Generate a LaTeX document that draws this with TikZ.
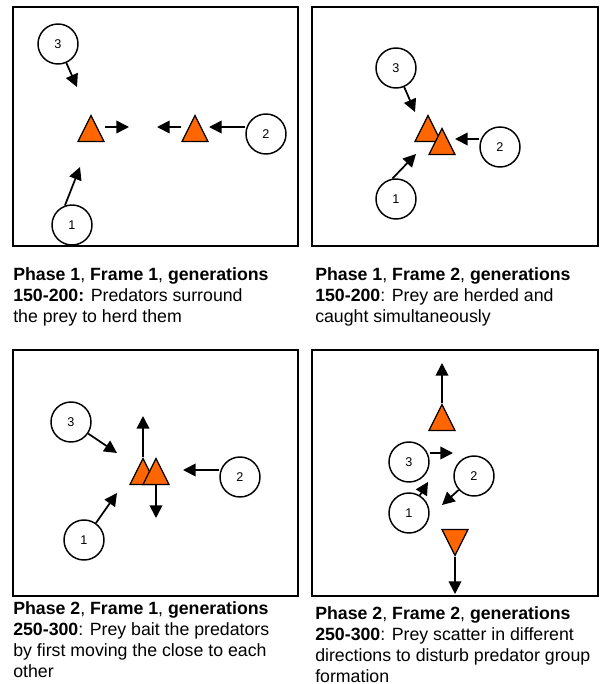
\documentclass[tikz,border=0pt]{standalone}
\usepackage{fontspec}
\setmainfont{Liberation Sans}
\usetikzlibrary{arrows.meta,shapes.geometric}
\definecolor{preyorange}{RGB}{255,102,0}

\begin{document}
\begin{tikzpicture}[x=0.75pt,y=-0.75pt,
    frame/.style={line width=1.5pt},
    pred/.style={circle,draw,line width=1.1pt,minimum size=30pt,inner sep=0pt,fill=white,font=\fontsize{9.5}{11}\selectfont},
    prey/.style={isosceles triangle,isosceles triangle stretches,shape border rotate=90,draw,line width=0.9pt,
      fill=preyorange,minimum width=19.5pt,minimum height=19.5pt,inner sep=0pt},
    preydown/.style={prey,shape border rotate=270},
    move/.style={line width=1.3pt,-{Triangle[length=9.5pt,width=9.5pt]}},
    caption/.style={anchor=north west,align=left,inner sep=0pt,font=\fontsize{13.3}{15.75}\selectfont}]
\useasboundingbox (0,0) rectangle (611,684);

% frames
\draw[frame] (13,7) rectangle (298,246);
\draw[frame] (312,7) rectangle (598,246);
\draw[frame] (13,350) rectangle (298,596);
\draw[frame] (312,350) rectangle (598,596);

% Phase 1, Frame 1
\node[pred] (a3) at (58,44) {3};
\node[pred] (a2) at (266,134) {2};
\node[pred] (a1) at (72,225) {1};
\node[prey,anchor=apex] (pa1) at (91,114) {};
\node[prey,anchor=apex] (pa2) at (195,114) {};
\coordinate (ta3) at (77,87);
\coordinate (ta1) at (80,167);
\coordinate (ta2) at (209,127);
\coordinate (tpa1) at (129,127);
\coordinate (tpa2) at (157,127);
\draw[move] (a3) -- (ta3);
\draw[move] (a1.110) -- (ta1);
\draw[move] (a2.west |- ta2) -- (ta2);
\draw[move] (pa1.east |- tpa1) ++(4,0) -- (tpa1);
\draw[move] (pa2.west |- tpa2) ++(-4,0) -- (tpa2);

% Phase 1, Frame 2
\node[pred] (b3) at (396,68) {3};
\node[pred] (b2) at (500,147) {2};
\node[pred] (b1) at (396,199) {1};
\node[prey,anchor=apex] (pb1) at (428,114) {};
\node[prey,anchor=apex] (pb2) at (442,127) {};
\coordinate (tb3) at (415,112);
\coordinate (tb2) at (455,139);
\coordinate (tb1) at (416,154);
\draw[move] (b3) -- (tb3);
\draw[move] (b2.west |- tb2) -- (tb2);
\draw[move] (b1.100) -- (tb1);

% Phase 2, Frame 1
\node[pred] (c3) at (71,422) {3};
\node[pred] (c2) at (240,477) {2};
\node[pred] (c1) at (84,540) {1};
\node[prey,anchor=apex] (pc1) at (143,457) {};
\node[prey,anchor=apex] (pc2) at (156,457) {};
\coordinate (tc3) at (117,453);
\coordinate (tc2) at (183,470);
\coordinate (tc1) at (117,493);
\coordinate (tpc1) at (143,416);
\coordinate (tpc2) at (156,518);
\draw[move] (c3) -- (tc3);
\draw[move] (c2.west |- tc2) -- (tc2);
\draw[move] (c1) -- (tc1);
\draw[move] (pc1.apex) -- (tpc1);
\draw[move] (pc2.lower side) -- (tpc2);

% Phase 2, Frame 2
\node[pred] (d3) at (409,462) {3};
\node[pred] (d2) at (474,476) {2};
\node[pred] (d1) at (409,513) {1};
\node[prey,anchor=apex] (pd1) at (442,403) {};
\node[preydown,anchor=apex] (pd2) at (455,557) {};
\coordinate (td3) at (453,453);
\coordinate (td2) at (442,505);
\coordinate (td1) at (428,482);
\coordinate (tpd1) at (442,363);
\coordinate (tpd2) at (455,594);
\draw[move] (d3.east |- td3) -- (td3);
\draw[move] (d2) -- (td2);
\draw[move] (d1) -- (td1);
\draw[move] (pd1.apex) -- (tpd1);
\draw[move] (pd2.apex) -- (tpd2);

% captions
\node[caption] (capa) at (13,267) {\textbf{Phase 1}, \textbf{Frame 1}, \textbf{generations}\\
  \textbf{150-200:} Predators surround\\the prey to herd them};
\node[caption] (capb) at (315,267) {\textbf{Phase 1}, \textbf{Frame 2}, \textbf{generations}\\
  \textbf{150-200}: Prey are herded and\\caught simultaneously};
\node[caption] (capc) at (13,601) {\textbf{Phase 2}, \textbf{Frame 1}, \textbf{generations}\\
  \textbf{250-300}: Prey bait the predators\\by first moving the close to each\\other};
\node[caption] (capd) at (315,606) {\textbf{Phase 2}, \textbf{Frame 2}, \textbf{generations}\\
  \textbf{250-300}: Prey scatter in different\\directions to disturb predator group\\formation};
\end{tikzpicture}
\end{document}
